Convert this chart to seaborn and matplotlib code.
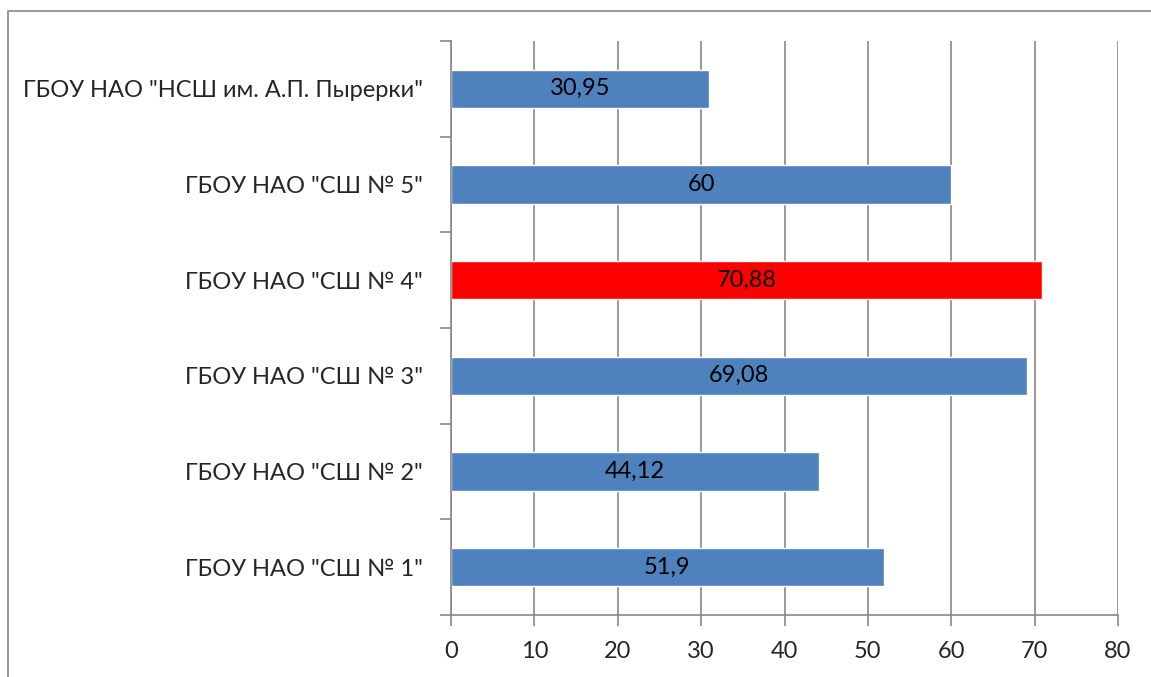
import seaborn as sns
import matplotlib.pyplot as plt
from matplotlib.patches import Rectangle

schools = ['ГБОУ НАО "НСШ им. А.П. Пырерки"', 'ГБОУ НАО "СШ № 5"', 'ГБОУ НАО "СШ № 4"',
           'ГБОУ НАО "СШ № 3"', 'ГБОУ НАО "СШ № 2"', 'ГБОУ НАО "СШ № 1"']
values = [30.95, 60, 70.88, 69.08, 44.12, 51.9]
value_labels = ['30,95', '60', '70,88', '69,08', '44,12', '51,9']
bar_colors = ['#4F81BD', '#4F81BD', '#FF0000', '#4F81BD', '#4F81BD', '#4F81BD']

sns.set_style('white')
plt.rcParams['font.family'] = ['Lato', 'DejaVu Sans']

fig = plt.figure(figsize=(11.51, 6.77), dpi=100)
ax = fig.add_axes([451 / 1151, 1 - 615 / 677, (1118 - 451) / 1151, (615 - 41) / 677])

sns.barplot(x=values, y=schools, hue=schools, palette=bar_colors, legend=False,
            width=0.4, orient='h', saturation=1, ax=ax)

# value labels inside the bars
for cont, lab in zip(ax.containers, value_labels):
    ax.bar_label(cont, labels=[lab], label_type='center', fontsize=17, color='black')

grey = '#878787'
ax.set_xlim(0, 80)
ax.set_ylim(5.5, -0.5)
ax.set_xticks(range(0, 81, 10))
ax.grid(axis='x', color=grey, linewidth=1.2)
ax.grid(axis='y', visible=False)
ax.set_axisbelow(True)
ax.set_xlabel('')
ax.set_ylabel('')

ax.set_yticks([i + 0.5 for i in range(-1, 6)], minor=True)
ax.tick_params(axis='y', which='major', length=0, pad=20, labelsize=17)
ax.tick_params(axis='y', which='minor', length=8, color=grey, width=1.2, left=True)
ax.tick_params(axis='x', length=8, color=grey, width=1.2, bottom=True, labelsize=17, pad=11)

for side in ['top', 'right']:
    ax.spines[side].set_visible(False)
for side in ['left', 'bottom']:
    ax.spines[side].set_color(grey)
    ax.spines[side].set_linewidth(1.2)

# outer chart frame
fig.patches.append(Rectangle((8 / 1151, -0.1), 1.2, 1 - 11 / 677 + 0.1, transform=fig.transFigure,
                             fill=False, edgecolor=grey, linewidth=1.2))

fig.savefig('out.png', dpi=100)
